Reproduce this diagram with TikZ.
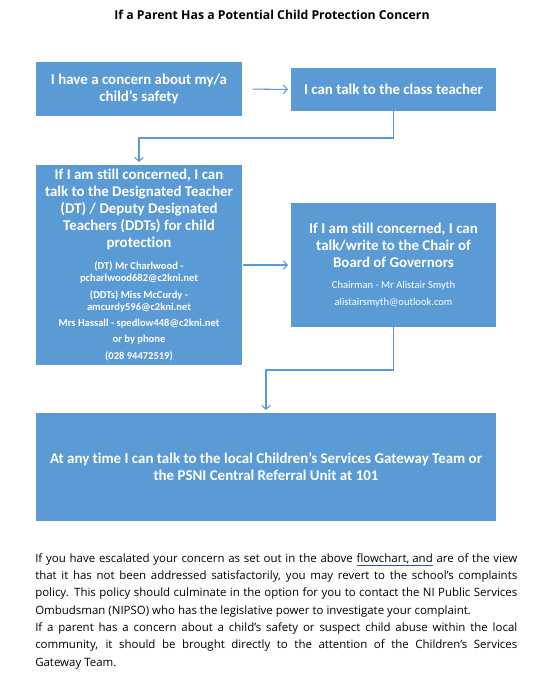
\documentclass[tikz,border=0pt]{standalone}
\usepackage{fontspec}
\setmainfont{Open Sans}
\newfontfamily\boxfont{Carlito}[Ligatures=NoCommon]
\usetikzlibrary{arrows.meta, positioning}
\definecolor{boxblue}{HTML}{5B9BD5}
\definecolor{lineblue}{HTML}{5B9BD5}
\definecolor{markblue}{HTML}{2F5597}
\newcommand\notesize{\fontsize{7.9}{9}\selectfont}

\begin{document}
\begin{tikzpicture}[x=0.75pt,y=-0.75pt,
            stage/.style={fill=boxblue, text=white, inner sep=0pt, align=flush center,
                font=\boxfont\bfseries\fontsize{11.2}{12.7}\selectfont},
            to/.style={-{Straight Barb[length=3pt,width=6.5pt]}, draw=lineblue, line width=0.8pt, shorten >=2pt},
            every node/.style={align=center}]
        \useasboundingbox (0,0) rectangle (540,680);

        \node[font=\bfseries\fontsize{9.2}{11}\selectfont] (title) at (272,15) {If a Parent Has a Potential Child Protection Concern};

        \node[stage, minimum width=154.5pt, minimum height=40.5pt, text width=150pt] (concern) at (139,89)
            {I have a concern about my/a\\ child’s safety};
        \node[stage, minimum width=153.75pt, minimum height=32.25pt, text width=150pt] (teacher) at (393.5,89.5)
            {I can talk to the class teacher};
        \node[stage, minimum width=154.5pt, minimum height=150pt, text width=150pt] (dt) at (139,265)
            {If I am still concerned, I can\\ talk to the Designated Teacher\\ (DT) / Deputy Designated\\ Teachers (DDTs) for child\\ protection\par
            \vspace{8pt}\notesize (DT) Mr Charlwood -\\ pcharlwood682@c2kni.net\par
            \vspace{3.25pt}(DDTs) Miss McCurdy -\\ amcurdy596@c2kni.net\par
            \vspace{3.25pt}Mrs Hassall - spedlow448@c2kni.net\par
            \vspace{3.25pt}or by phone\par
            \vspace{3.25pt}(028 94472519)\par};
        \node[stage, minimum width=153.75pt, minimum height=93pt, text width=150pt] (chair) at (393.5,265)
            {If I am still concerned, I can\\ talk/write to the Chair of\\ Board of Governors\par
            \vspace{6.5pt}\notesize\mdseries Chairman - Mr Alistair Smyth\par
            \vspace{3.75pt}alistairsmyth@outlook.com\par};
        \node[stage, minimum width=345pt, minimum height=81pt, text width=340pt] (gateway) at (266,467)
            {At any time I can talk to the local Children’s Services Gateway Team or\\ the PSNI Central Referral Unit at 101};

        \coordinate (turn1) at (0,138);
        \coordinate (turn2) at (0,370);

        \draw[to, shorten <=7.5pt] (concern.east) -- (teacher.west);
        \draw[to] (teacher.south) -- (teacher.south |- turn1) -| (dt.north);
        \draw[to, shorten <=0.75pt] (dt.east) -- (chair.west);
        \draw[to] (chair.south) -- (chair.south |- turn2) -| (gateway.north);

        \node[anchor=north west, inner sep=0pt, text width=361.5pt, align=justify,
            font=\fontsize{8.6}{13}\selectfont] (note) at (35,553)
            {If you have escalated your concern as set out in the above {\color{markblue}\underline{\color{black}flowchart, and}} are of the view\linebreak
            that it has not been addressed satisfactorily, you may revert to the school’s complaints\linebreak
            policy. This policy should culminate in the option for you to contact the NI Public Services\linebreak
            Ombudsman (NIPSO) who has the legislative power to investigate your complaint.\\
            If a parent has a concern about a child’s safety or suspect child abuse within the local\linebreak
            community, it should be brought directly to the attention of the Children’s Services\linebreak
            Gateway Team.};
    \end{tikzpicture}
\end{document}
